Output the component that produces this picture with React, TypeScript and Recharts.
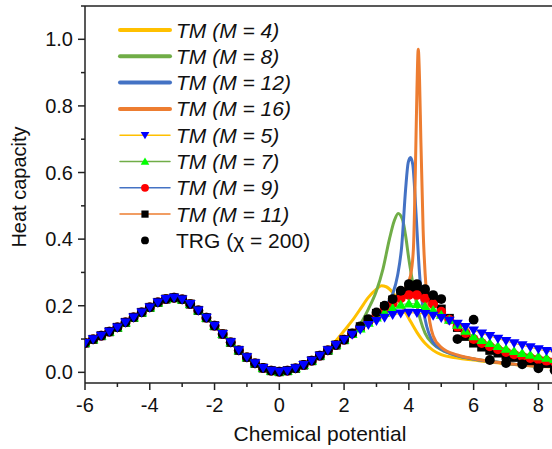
import React from 'react';
import { LineChart, Line, XAxis, YAxis, ReferenceLine } from 'recharts';

// common part of all curves (x <= 2)
const xLeft = [-6, -5.75, -5.5, -5.25, -5, -4.75, -4.5, -4.25, -4, -3.75, -3.5, -3.25, -3, -2.75, -2.5, -2.25, -2, -1.75, -1.5, -1.25, -1, -0.75, -0.5, -0.25, 0, 0.25, 0.5, 0.75, 1, 1.25, 1.5, 1.75, 2];
const yLeft = [0.088, 0.099, 0.11, 0.122, 0.135, 0.15, 0.165, 0.18, 0.195, 0.21, 0.22, 0.224, 0.219, 0.205, 0.186, 0.164, 0.14, 0.115, 0.09, 0.066, 0.045, 0.027, 0.013, 0.005, 0.002, 0.005, 0.012, 0.022, 0.035, 0.05, 0.066, 0.082, 0.098];

// thick lines
const m4X = [1.75, 2, 2.25, 2.5, 2.75, 3, 3.15, 3.3, 3.5, 3.75, 4, 4.25, 4.5, 4.75, 5, 5.5, 6, 6.5, 7, 7.5, 8, 8.5];
const m4Y = [0.095, 0.125, 0.155, 0.19, 0.225, 0.25, 0.26, 0.257, 0.24, 0.205, 0.162, 0.12, 0.087, 0.066, 0.053, 0.043, 0.037, 0.031, 0.026, 0.021, 0.018, 0.016];
const m8X = [2.25, 2.5, 2.75, 3, 3.2, 3.4, 3.55, 3.67, 3.8, 3.9, 4, 4.1, 4.2, 4.35, 4.5, 4.75, 5, 5.5, 6, 6.5, 7, 7.5, 8, 8.5];
const m8Y = [0.118, 0.145, 0.19, 0.245, 0.31, 0.4, 0.455, 0.477, 0.46, 0.41, 0.34, 0.28, 0.225, 0.16, 0.118, 0.085, 0.068, 0.05, 0.04, 0.033, 0.027, 0.022, 0.019, 0.017];
const m12X = [2.25, 2.5, 3, 3.25, 3.5, 3.65, 3.78, 3.9, 3.98, 4.05, 4.12, 4.22, 4.32, 4.4, 4.5, 4.75, 5, 5.5, 6, 6.5, 7, 7.5, 8, 8.5];
const m12Y = [0.115, 0.133, 0.172, 0.198, 0.235, 0.29, 0.38, 0.55, 0.63, 0.645, 0.625, 0.48, 0.31, 0.22, 0.16, 0.09, 0.07, 0.05, 0.04, 0.033, 0.027, 0.022, 0.019, 0.017];
const m16X = [2.25, 2.5, 3, 3.5, 3.75, 3.9, 4.05, 4.14, 4.2, 4.25, 4.29, 4.33, 4.37, 4.44, 4.55, 4.65, 4.75, 5, 5.5, 6, 6.5, 7, 7.5, 8, 8.5];
const m16Y = [0.115, 0.133, 0.17, 0.205, 0.23, 0.255, 0.29, 0.37, 0.6, 0.85, 0.97, 0.88, 0.7, 0.43, 0.23, 0.15, 0.11, 0.075, 0.052, 0.041, 0.033, 0.027, 0.022, 0.019, 0.017];

// marker series, x > 2
const xRight = [2.25, 2.5, 2.75, 3, 3.25, 3.5, 3.75, 4, 4.25, 4.5, 4.75, 5, 5.25, 5.5, 5.75, 6, 6.25, 6.5, 6.75, 7, 7.25, 7.5, 7.75, 8, 8.25, 8.5];
const m5Y = [0.113, 0.128, 0.142, 0.154, 0.164, 0.172, 0.177, 0.179, 0.178, 0.175, 0.17, 0.163, 0.155, 0.146, 0.136, 0.126, 0.117, 0.109, 0.101, 0.094, 0.087, 0.081, 0.075, 0.069, 0.064, 0.06];
const m7Y = [0.115, 0.132, 0.149, 0.165, 0.18, 0.193, 0.203, 0.207, 0.205, 0.198, 0.187, 0.173, 0.158, 0.143, 0.125, 0.108, 0.097, 0.088, 0.079, 0.071, 0.064, 0.058, 0.053, 0.048, 0.044, 0.04];
const m9Y = [0.116, 0.135, 0.154, 0.172, 0.19, 0.207, 0.222, 0.232, 0.232, 0.222, 0.205, 0.182, 0.158, 0.137, 0.118, 0.1, 0.088, 0.078, 0.069, 0.061, 0.054, 0.048, 0.043, 0.039, 0.035, 0.032];
const m11Y = [0.117, 0.137, 0.157, 0.177, 0.197, 0.217, 0.235, 0.248, 0.25, 0.238, 0.215, 0.19, 0.162, 0.135, 0.108, 0.088, 0.076, 0.066, 0.058, 0.051, 0.045, 0.04, 0.035, 0.031, 0.027, 0.024];

// TRG (chi = 200)
const trgX = [2.25, 2.5, 2.75, 3, 3.25, 3.5, 3.75, 4, 4.25, 4.5, 4.75, 5, 5.5, 6, 6.5, 7, 7.5, 8, 8.5];
const trgY = [0.117, 0.138, 0.16, 0.18, 0.2, 0.22, 0.245, 0.265, 0.265, 0.25, 0.232, 0.22, 0.1, 0.158, 0.037, 0.028, 0.024, 0.012, 0.006];

const xTicks = [-6, -5, -4, -3, -2, -1, 0, 1, 2, 3, 4, 5, 6, 7, 8];
const yTicks = [0, 0.1, 0.2, 0.3, 0.4, 0.5, 0.6, 0.7, 0.8, 0.9, 1.0, 1.1];

const FONT = 'Arial, "Liberation Sans", sans-serif';
const AXIS = '#222';

// base curve up to where a series splits off, then the series' own points
function join(xs: number[], ys: number[]) {
  const pts = xLeft.map((x, i) => ({ x, y: yLeft[i] })).filter(p => p.x < xs[0]);
  return pts.concat(xs.map((x, i) => ({ x, y: ys[i] })));
}

const d4 = join(m4X, m4Y);
const d8 = join(m8X, m8Y);
const d12 = join(m12X, m12Y);
const d16 = join(m16X, m16Y);
const d5 = join(xRight, m5Y);
const d7 = join(xRight, m7Y);
const d9 = join(xRight, m9Y);
const d11 = join(xRight, m11Y);
const dTrg = join(trgX, trgY);

type Kind = 'down' | 'up' | 'circle' | 'square' | 'dot';

function Marker({ kind, cx, cy, fill, s = 1 }: { kind: Kind; cx: number; cy: number; fill: string; s?: number }) {
  const w = 5.4 * s, t = 4 * s, b = 5 * s;
  if (kind === 'down') return <polygon points={`${cx - w},${cy - t} ${cx + w},${cy - t} ${cx},${cy + b}`} fill={fill} />;
  if (kind === 'up') return <polygon points={`${cx - w},${cy + t} ${cx + w},${cy + t} ${cx},${cy - b}`} fill={fill} />;
  if (kind === 'square') return <rect x={cx - 4.5 * s} y={cy - 4.5 * s} width={9 * s} height={9 * s} fill={fill} />;
  return <circle cx={cx} cy={cy} r={4.9 * s} fill={fill} />;
}

const dotOf = (kind: Kind, fill: string) => (p: any) =>
  p.cx == null ? <g key={p.index} /> : <Marker key={p.index} kind={kind} cx={p.cx} cy={p.cy} fill={fill} />;

function XTick(p: any) {
  const v = p.payload.value;
  const major = v % 2 === 0;
  return (
    <g>
      <line x1={p.x} x2={p.x} y1={p.y} y2={p.y + (major ? 7 : 4)} stroke={AXIS} strokeWidth={1.5} />
      {major && (
        <text x={p.x} y={p.y + 22} textAnchor="middle" dominantBaseline="central" fontSize={20} fontFamily={FONT} fill="#111">
          {v}
        </text>
      )}
    </g>
  );
}

function YTick(p: any) {
  const v = p.payload.value;
  const major = Math.round(v * 10) % 2 === 0;
  return (
    <g>
      <line x1={p.x - (major ? 7 : 4)} x2={p.x} y1={p.y} y2={p.y} stroke={AXIS} strokeWidth={1.5} />
      {major && (
        <text x={p.x - 12} y={p.y} textAnchor="end" dominantBaseline="central" fontSize={20} fontFamily={FONT} fill="#111">
          {v.toFixed(1)}
        </text>
      )}
    </g>
  );
}

const legendRows: { label: string; italic: boolean; stroke?: string; width?: number; marker?: Kind; fill?: string }[] = [
  { label: 'TM (M = 4)', italic: true, stroke: '#FFC000', width: 4 },
  { label: 'TM (M = 8)', italic: true, stroke: '#70AD47', width: 4 },
  { label: 'TM (M = 12)', italic: true, stroke: '#4472C4', width: 4 },
  { label: 'TM (M = 16)', italic: true, stroke: '#ED7D31', width: 4 },
  { label: 'TM (M = 5)', italic: true, stroke: '#FFC000', width: 1.5, marker: 'down', fill: '#0000FF' },
  { label: 'TM (M = 7)', italic: true, stroke: '#70AD47', width: 1.5, marker: 'up', fill: '#00FF00' },
  { label: 'TM (M = 9)', italic: true, stroke: '#4472C4', width: 1.5, marker: 'circle', fill: '#FF0000' },
  { label: 'TM (M = 11)', italic: true, stroke: '#ED7D31', width: 1.5, marker: 'square', fill: '#000000' },
  { label: 'TRG (χ = 200)', italic: false, marker: 'dot', fill: '#000000' },
];

function LegendBox() {
  return (
    <svg width={552} height={449} style={{ position: 'absolute', left: 0, top: 0, pointerEvents: 'none' }}>
      {legendRows.map((r, i) => {
        const y = 30 + i * 26.3;
        return (
          <g key={r.label}>
            {r.stroke && <line x1={120} x2={170} y1={y} y2={y} stroke={r.stroke} strokeWidth={r.width} strokeLinecap="round" />}
            {r.marker && <Marker kind={r.marker} cx={145} cy={y} fill={r.fill!} s={0.8} />}
            <text x={176} y={y} dominantBaseline="central" fontSize={21} fontFamily={FONT} fontStyle={r.italic ? 'italic' : 'normal'} fill="#111">
              {r.label}
            </text>
          </g>
        );
      })}
      <text x={320} y={433} textAnchor="middle" dominantBaseline="central" fontSize={21} fontFamily={FONT} fill="#111">
        Chemical potential
      </text>
      <text x={19} y={187} textAnchor="middle" dominantBaseline="central" fontSize={20} fontFamily={FONT} fill="#111" transform="rotate(-90 19 187)">
        Heat capacity
      </text>
    </svg>
  );
}

export default function App() {
  return (
    <div style={{ position: 'absolute', left: 0, top: 0, width: 552, height: 449, overflow: 'hidden', background: '#fff' }}>
      <LineChart width={552} height={449} margin={{ top: 6, right: 0, left: 0, bottom: 0 }}>
        <XAxis
          type="number"
          dataKey="x"
          domain={[-6, 8.42]}
          allowDataOverflow
          ticks={xTicks}
          height={66}
          tickSize={0}
          tickMargin={0}
          tickLine={false}
          tick={<XTick />}
          axisLine={{ stroke: AXIS, strokeWidth: 1.5 }}
          interval={0}
        />
        <YAxis
          type="number"
          domain={[-0.032, 1.1]}
          allowDataOverflow
          ticks={yTicks}
          width={85}
          tickSize={0}
          tickMargin={0}
          tickLine={false}
          tick={<YTick />}
          axisLine={{ stroke: AXIS, strokeWidth: 1.5 }}
          interval={0}
        />
        <ReferenceLine y={1.1} stroke={AXIS} strokeWidth={1.5} ifOverflow="visible" />

        <Line data={d4} dataKey="y" type="monotone" stroke="#FFC000" strokeWidth={3} dot={false} isAnimationActive={false} />
        <Line data={d8} dataKey="y" type="monotone" stroke="#70AD47" strokeWidth={3} dot={false} isAnimationActive={false} />
        <Line data={d12} dataKey="y" type="monotone" stroke="#4472C4" strokeWidth={3} dot={false} isAnimationActive={false} />
        <Line data={d16} dataKey="y" type="monotone" stroke="#ED7D31" strokeWidth={3} dot={false} isAnimationActive={false} />

        <Line data={d11} dataKey="y" stroke="#ED7D31" strokeWidth={1} dot={dotOf('square', '#000000')} isAnimationActive={false} />
        <Line data={d9} dataKey="y" stroke="#4472C4" strokeWidth={1} dot={dotOf('circle', '#FF0000')} isAnimationActive={false} />
        <Line data={d7} dataKey="y" stroke="#70AD47" strokeWidth={1} dot={dotOf('up', '#00FF00')} isAnimationActive={false} />
        <Line data={dTrg} dataKey="y" stroke="none" dot={dotOf('dot', '#000000')} isAnimationActive={false} />
        <Line data={d5} dataKey="y" stroke="#FFC000" strokeWidth={1} dot={dotOf('down', '#0000FF')} isAnimationActive={false} />
      </LineChart>
      <LegendBox />
    </div>
  );
}
